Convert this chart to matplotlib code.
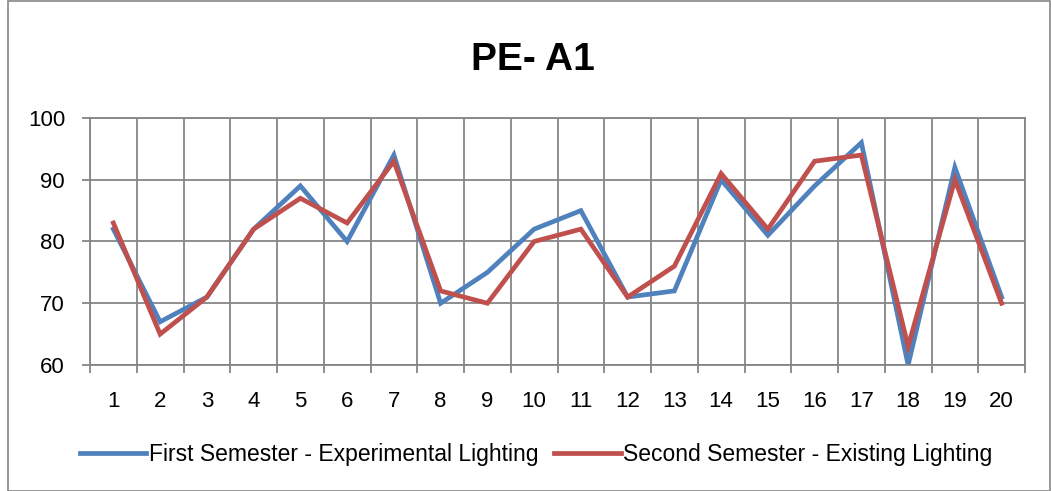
import matplotlib.pyplot as plt
from matplotlib.patches import Rectangle

plt.rcParams['font.family'] = ['Liberation Sans', 'DejaVu Sans']

# Data
students = list(range(1, 21))
first_semester = [82, 67, 71, 82, 89, 80, 94, 70, 75, 82, 85, 71, 72, 90, 81, 89, 96, 60, 92, 71]
second_semester = [83, 65, 71, 82, 87, 83, 93, 72, 70, 80, 82, 71, 76, 91, 82, 93, 94, 63, 90, 70]
y_ticks = [60, 70, 80, 90, 100]

grid_col = '#868686'

fig = plt.figure(figsize=(10.51, 4.91), dpi=100)
ax = fig.add_axes([90 / 1051, 1 - 365 / 491, 935 / 1051, 247 / 491])

ax.plot(students, first_semester, color='#4F81BD', lw=3.4,
        label='First Semester - Experimental Lighting', solid_joinstyle='miter')
ax.plot(students, second_semester, color='#C0504D', lw=3.4,
        label='Second Semester - Existing Lighting', solid_joinstyle='miter')

ax.set_xlim(0.5, 20.5)
ax.set_ylim(60, 100)
ax.set_yticks(y_ticks)
ax.set_xticks(students)
ax.set_xticks([i + 0.5 for i in range(0, 21)], minor=True)
ax.grid(axis='y', color=grid_col, lw=1.3)
ax.grid(axis='x', which='minor', color=grid_col, lw=1.3)
ax.set_axisbelow(True)

ax.tick_params(axis='x', which='major', length=0, labelsize=16, pad=19)
ax.tick_params(axis='x', which='minor', length=6, color=grid_col, width=1.3)
ax.tick_params(axis='y', length=6, color=grid_col, width=1.3, labelsize=16, pad=12)
for s in ax.spines.values():
    s.set_color(grid_col)
    s.set_linewidth(1.3)

fig.text(533 / 1051, 1 - 60 / 491, 'PE- A1', ha='center', va='center',
         fontsize=28, fontweight='bold')

fig.legend(loc='center', bbox_to_anchor=(536 / 1051, 1 - 455 / 491), ncol=2,
           frameon=False, fontsize=16.5, handlelength=2.9, handletextpad=0.1,
           columnspacing=0.7)

# outer chart border
fig.patches.append(Rectangle((8 / 1051, 0), 1 - 9 / 1051, 1 - 1 / 491,
                             transform=fig.transFigure, fill=False,
                             edgecolor=grid_col, lw=1.2))

fig.savefig('out.png', dpi=100)
